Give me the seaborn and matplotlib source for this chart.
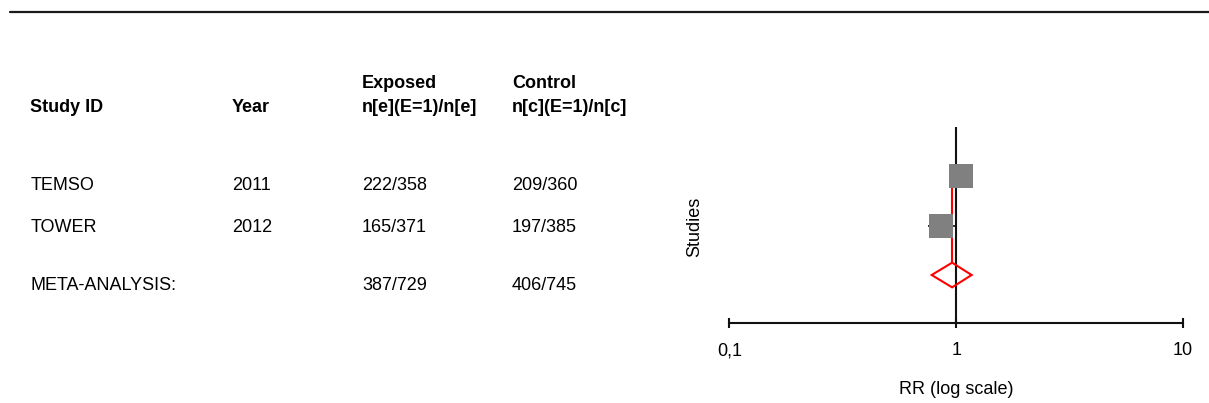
import matplotlib
matplotlib.use("Agg")
import matplotlib.pyplot as plt
from matplotlib.patches import Polygon
import seaborn as sns
import pandas as pd
import numpy as np

# ---- data ----
studies = ["TEMSO", "TOWER"]
years = ["2011", "2012"]
exposed = ["222/358", "165/371"]
control = ["209/360", "197/385"]
meta_label = "META-ANALYSIS:"
meta_exposed = "387/729"
meta_control = "406/745"

rr = [1.05, 0.86]
rr_low = [0.95, 0.75]
rr_high = [1.19, 0.99]
pooled_rr = 0.96
pooled_low = 0.78
pooled_high = 1.17

study_pos = [3, 2]
meta_pos = 1

xticks = [0.1, 1, 10]
xtick_labels = ["0,1", "1", "10"]

sns.set_style("white")
plt.rcParams["font.family"] = ["Liberation Sans", "DejaVu Sans"]

W, H = 1209, 403
fig = plt.figure(figsize=(W / 100, H / 100), dpi=100)

def px(x, y):
    return x / W, 1 - y / H

TXT = "#000000"
# top rule
fig.add_artist(plt.Line2D([10 / W, 1.0], [1 - 12 / H, 1 - 12 / H], color="#1a1a1a", lw=1.6))

FS = 13
# headers
for (x, y, t) in [(30, 108, "Study ID"), (232, 108, "Year"),
                  (362, 83, "Exposed"), (362, 108, "n[e](E=1)/n[e]"),
                  (512, 83, "Control"), (512, 108, "n[c](E=1)/n[c]")]:
    fig.text(*px(x, y), t, fontsize=FS, fontweight="bold", ha="left", va="center", color=TXT)

row_y = [185, 228]
for i in range(len(studies)):
    fig.text(*px(31, row_y[i]), studies[i], fontsize=FS, ha="left", va="center", color=TXT)
    fig.text(*px(232, row_y[i]), years[i], fontsize=FS, ha="left", va="center", color=TXT)
    fig.text(*px(362, row_y[i]), exposed[i], fontsize=FS, ha="left", va="center", color=TXT)
    fig.text(*px(512, row_y[i]), control[i], fontsize=FS, ha="left", va="center", color=TXT)
fig.text(*px(31, 285), meta_label, fontsize=FS, ha="left", va="center", color=TXT)
fig.text(*px(362, 285), meta_exposed, fontsize=FS, ha="left", va="center", color=TXT)
fig.text(*px(512, 285), meta_control, fontsize=FS, ha="left", va="center", color=TXT)

# ---- forest plot axes ----
ax_left, ax_right = 729.3, 1183.0
ax_top, ax_bottom = 127.0, 323.3
ax = fig.add_axes([ax_left / W, 1 - ax_bottom / H, (ax_right - ax_left) / W, (ax_bottom - ax_top) / H])
ax.set_xscale("log")
ax.set_xlim(0.1, 10)
unit = 49.4
ylo = meta_pos - (ax_bottom - 275.0) / unit
yhi = study_pos[0] + (176.2 - ax_top) / unit
ax.set_ylim(ylo, yhi)

# line of no effect
ax.axvline(1, color="#111111", lw=1.5, zorder=1)

# confidence intervals
ax.hlines(study_pos, rr_low, rr_high, color="#111111", lw=1.2, zorder=2)

# pooled vertical red line
ax.plot([pooled_rr, pooled_rr], [meta_pos + 0.25, study_pos[0]], color="red", lw=1.5, zorder=2)

# squares via seaborn
df = pd.DataFrame({"rr": rr, "pos": study_pos, "study": studies})
sns.scatterplot(data=df, x="rr", y="pos", marker="s", s=290, color="#808080",
                linewidth=0, ax=ax, zorder=3, legend=False)

# diamond
dh = 0.25
diamond = Polygon([[pooled_low, meta_pos], [pooled_rr, meta_pos + dh],
                   [pooled_high, meta_pos], [pooled_rr, meta_pos - dh]],
                  closed=True, fill=False, edgecolor="red", lw=1.5, zorder=4)
ax.add_patch(diamond)

for s in ["top", "right", "left"]:
    ax.spines[s].set_visible(False)
ax.spines["bottom"].set_color("#111111")
ax.spines["bottom"].set_linewidth(1.5)
ax.set_yticks([])
ax.set_xticks(xticks)
ax.set_xticklabels(xtick_labels)
ax.xaxis.set_minor_locator(matplotlib.ticker.NullLocator())
ax.tick_params(axis="x", direction="inout", length=7, width=1.5, color="#111111",
               labelsize=FS, pad=10, labelcolor=TXT, bottom=True)
ax.set_xlabel("RR (log scale)", fontsize=FS, labelpad=16, color=TXT)
ax.set_ylabel("")
fig.text(*px(695, 227), "Studies", rotation=90, fontsize=FS, ha="center", va="center", color=TXT)

fig.savefig("out.png", dpi=100)
